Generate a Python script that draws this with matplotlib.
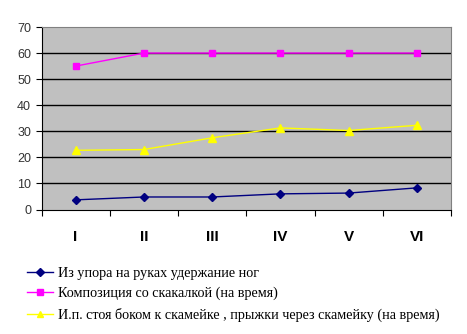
import numpy as np
import matplotlib.pyplot as plt

# Test stages and results per exercise
stages = ["I", "II", "III", "IV", "V", "VI"]
hold_legs = [3.7, 4.8, 4.8, 6.0, 6.3, 8.3]
rope_combo = [55, 60, 60, 60, 60, 60]
bench_jumps = [22.7, 23.0, 27.5, 31.3, 30.3, 32.3]

labels = [
    "Из упора на руках удержание ног",
    "Композиция со скакалкой (на время)",
    "И.п. стоя боком к скамейке , прыжки через скамейку (на время)",
]

fig = plt.figure(figsize=(4.67, 3.34), dpi=100)
W, H = 467, 334
ax = fig.add_axes([41.5 / W, 1 - 209.5 / H, (451 - 41.5) / W, (209.5 - 27) / H])
ax.set_facecolor("#c0c0c0")

x = np.arange(len(stages))
l1, = ax.plot(x, hold_legs, color="#000080", lw=1, marker="D", ms=4, zorder=3)
l2, = ax.plot(x, rope_combo, color="#ff00ff", lw=1, marker="s", ms=5, zorder=3)
l3, = ax.plot(x, bench_jumps, color="#ffff00", lw=1, marker="^", ms=6, zorder=3)

ax.set_xlim(-0.5, len(stages) - 0.5)
ax.set_ylim(0, 70)
ax.set_yticks(range(0, 71, 10))
for v in range(10, 70, 10):
    ax.axhline(v, color="black", lw=1, zorder=1)

ax.set_xticks(np.arange(-0.5, len(stages), 1))
ax.set_xticklabels([])
ax.tick_params(axis="x", length=4, direction="out", color="black")
ax.tick_params(axis="y", length=4, direction="out", color="black", labelsize=9)
for t in ax.get_yticklabels():
    t.set_fontfamily("Liberation Sans")
    t.set_color("#333333")
for i, s in enumerate(stages):
    ax.text(i, -10.5, s, ha="center", va="center", fontsize=11, fontweight="bold",
            fontfamily="Liberation Sans", transform=ax.transData, clip_on=False)

for side in ["top", "right"]:
    ax.spines[side].set_color("#808080")
ax.spines["left"].set_color("black")
ax.spines["bottom"].set_color("black")

leg = fig.legend([l1, l2, l3], labels, loc="upper left",
                 bbox_to_anchor=(27 / W, 1 - 266.5 / H), frameon=False,
                 prop={"family": "Liberation Serif", "size": 10.2},
                 handlelength=1.85, handletextpad=0.35, labelspacing=0.52,
                 borderaxespad=0, borderpad=0)
for h in leg.legend_handles:
    h.set_markersize(4)

fig.savefig("out.png", dpi=100)
